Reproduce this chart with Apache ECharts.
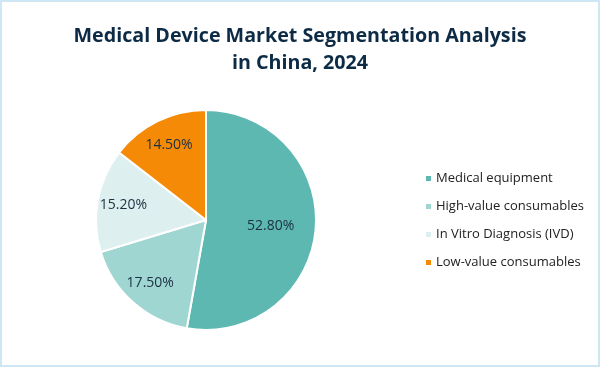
<!DOCTYPE html>
<html><head><meta charset="utf-8">
<script src="https://cdn.jsdelivr.net/npm/echarts@6/dist/echarts.min.js"></script>
<style>
html,body{margin:0;padding:0;background:#fff;}
#c{width:600px;height:367px;box-sizing:border-box;border:2px solid #cfe6f5;}
</style></head><body>
<div id="c"></div>
<script>
const categories = ["Medical equipment","High-value consumables","In Vitro Diagnosis (IVD)","Low-value consumables"];
const values = [52.8, 17.5, 15.2, 14.5];
const colors = ["#5cb8b1","#9fd6d2","#ddf0ef","#f58a07"];
const titleText = "Medical Device Market Segmentation Analysis\nin China, 2024";

const center = [204,218];
const R = 110;
const labelStyle = {fontFamily:'Open Sans',fontSize:14,color:'#1b3042',formatter:p=>p.value.toFixed(2)+'%'};
const chart = echarts.init(document.getElementById('c'), null, {renderer:'canvas'});
const base = {type:'pie',center:center,startAngle:90,clockwise:true,labelLine:{show:false}};
chart.setOption({
  animation:false,
  title:{text:titleText,left:'center',top:16,
    textStyle:{fontFamily:'Open Sans',fontWeight:'bold',fontSize:19.7,color:'#0d2b45',lineHeight:27}},
  legend:{orient:'vertical',left:417,top:165,itemWidth:7,itemHeight:7,itemGap:15,icon:'rect',
    textStyle:{fontFamily:'Open Sans',fontSize:13,color:'#222',padding:[0,0,0,-1]},
    data:categories},
  series:[
    Object.assign({},base,{radius:[0,R],
      itemStyle:{borderColor:'#fff',borderWidth:2},
      label:{show:false},
      data:categories.map((n,i)=>({name:n,value:values[i],itemStyle:{color:colors[i]}}))}),
    Object.assign({},base,{radius:[14,R],silent:true,z:3,
      itemStyle:{color:'rgba(0,0,0,0)'},
      label:Object.assign({show:true,position:'inside'},labelStyle),
      data:categories.map((n,i)=>({name:n,value:values[i],label:{show:i===0}}))}),
    Object.assign({},base,{radius:[52,R],silent:true,z:3,
      itemStyle:{color:'rgba(0,0,0,0)'},
      label:Object.assign({show:true,position:'inside'},labelStyle),
      data:categories.map((n,i)=>({name:n,value:values[i],label:{show:i!==0}}))})
  ]
});
</script></body></html>
